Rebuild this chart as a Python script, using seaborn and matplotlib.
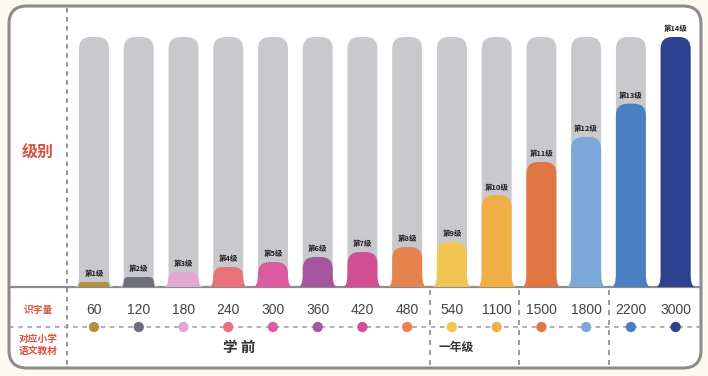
import numpy as np
import matplotlib
matplotlib.use("Agg")
import matplotlib.pyplot as plt
import seaborn as sns
from matplotlib.path import Path
from matplotlib.patches import PathPatch, FancyBboxPatch

# ---------------- data ----------------
levels = ["第1级", "第2级", "第3级", "第4级", "第5级", "第6级", "第7级",
          "第8级", "第9级", "第10级", "第11级", "第12级", "第13级", "第14级"]
counts = [60, 120, 180, 240, 300, 360, 420, 480, 540, 1100, 1500, 1800, 2200, 3000]
count_labels = ["60", "120", "180", "240", "300", "360", "420", "480",
                "540", "1100", "1500", "1800", "2200", "3000"]
colors = ["#b68e3e", "#6c6f79", "#e2a8d0", "#e8717b", "#dc5ba0", "#a5569f",
          "#d24f94", "#e6834f", "#f3c552", "#efae46", "#e07641", "#7ba8d9",
          "#4a80c1", "#2c4290"]
stage_labels = ["学 前", "一年级"]
stage_first = [0, 8]   # index of first level in each stage
stage_last = [7, 9]

row_title_level = "级别"
row_title_count = "识字量"
row_title_book = "对应小学\n语文教材"

grey = "#c9c9cd"
red = "#d95240"
CJK = ["Noto Sans CJK SC", "DejaVu Sans"]

# ---------------- figure ----------------
sns.set_theme(style="white")
plt.rcParams["font.family"] = CJK

W, H = 708, 376
fig = plt.figure(figsize=(W / 100, H / 100), dpi=100, facecolor="#fbf9f1")

# pixel-space background axes for the frame
bg = fig.add_axes([0, 0, 1, 1], zorder=0)
bg.set_xlim(0, W)
bg.set_ylim(H, 0)
bg.axis("off")
bg.add_patch(FancyBboxPatch((9, 6), 692, 362, boxstyle="round,pad=0,rounding_size=18",
                            facecolor="white", edgecolor="#8c8c8c", lw=2.2))

# data axes
ax = fig.add_axes([0, 0, 1, 1], zorder=1)
ax.patch.set_alpha(0)
PX = 44.74          # pixels per category
X0 = 94.0           # pixel centre of first category
SY = 12.0           # data units per pixel (vertical)
BASE = 287.0        # pixel row of baseline


def yd(py):
    return (BASE - py) * SY


# background grey bars + coloured bars via seaborn
n0 = len(ax.patches)
sns.barplot(x=levels, y=[max(counts)] * len(levels), color=grey, saturation=1,
            width=0.67, ax=ax, order=levels)
n1 = len(ax.patches)
sns.barplot(x=levels, y=counts, hue=levels, palette=colors, saturation=1,
            width=0.67, ax=ax, order=levels, hue_order=levels, legend=False, dodge=False)
n2 = len(ax.patches)

sx = 1.0 / PX


def bell_path(cx, width, height):
    hw = width / 2 / sx           # half width in px
    h = height / SY               # height in px
    f, r, fl = 12.0, 12.0, 5.0
    if h < f + r:
        s = h / (f + r)
        f, r, fl = f * s, r * s, fl * max(s, 0.35)
    wf = hw + fl
    pts = [(-wf, 0), (-hw, 0), (-hw, f), (-hw, h - r), (-hw, h), (-hw + r, h),
           (hw - r, h), (hw, h), (hw, h - r), (hw, f), (hw, 0), (wf, 0), (-wf, 0)]
    codes = [Path.MOVETO, Path.CURVE3, Path.CURVE3, Path.LINETO, Path.CURVE3, Path.CURVE3,
             Path.LINETO, Path.CURVE3, Path.CURVE3, Path.LINETO, Path.CURVE3, Path.CURVE3,
             Path.CLOSEPOLY]
    verts = [(cx + u * sx, v * SY) for u, v in pts]
    return Path(verts, codes)


bars = list(ax.patches)
for k, p in enumerate(bars[n0:n2]):
    cx = p.get_x() + p.get_width() / 2
    pp = PathPatch(bell_path(cx, p.get_width(), p.get_height()),
                   facecolor=p.get_facecolor(), edgecolor="none", zorder=2 + (k >= n1 - n0))
    ax.add_patch(pp)
    p.set_visible(False)

# level labels above coloured bars
for i, p in enumerate(bars[n1:n2]):
    cx = p.get_x() + p.get_width() / 2
    ax.text(cx, p.get_height() + 8.5 * SY, levels[i], ha="center", va="center",
            fontsize=5.4, fontweight="bold", color="#222222", zorder=4)

# count row
for i, lab in enumerate(count_labels):
    ax.text(i, yd(310), lab, ha="center", va="center", fontsize=10,
            family=["Liberation Sans", "DejaVu Sans"], color="#444444")

# dashed row line and dots
ax.plot([(9 - X0) / PX, (701 - X0) / PX], [yd(327)] * 2, ls=(0, (3, 3)),
        color="#9a9a9a", lw=1.1, zorder=1)
sns.scatterplot(x=np.arange(len(levels)), y=[yd(327)] * len(levels), hue=levels,
                palette=colors, hue_order=levels, s=55, edgecolor="none",
                legend=False, ax=ax, zorder=3)

# stage labels
ax.text((stage_first[0] + stage_last[0]) / 2 - 0.25, yd(347), stage_labels[0],
        ha="center", va="center", fontsize=10.5, fontweight="bold", color="#333333")
ax.text(stage_first[1] + 0.1, yd(347), stage_labels[1],
        ha="center", va="center", fontsize=8.5, fontweight="bold", color="#333333")

# stage separators
for a in stage_first[1:] + [10, 12]:
    ax.plot([a - 0.5, a - 0.5], [yd(290), yd(366)], ls=(0, (3, 3)), color="#8a8a8a", lw=1.2)

# frame lines (pixel axes)
bg.plot([9, 701], [287, 287], color="#8c8c8c", lw=1.6, zorder=3)
bg.plot([66.5, 66.5], [8, 367], ls=(0, (2.5, 2.5)), color="#8a8a8a", lw=1.3, zorder=3)

# row titles
bg.text(38, 153, row_title_level, ha="center", va="center", fontsize=11.5,
        fontweight="bold", color=red)
bg.text(38, 310, row_title_count, ha="center", va="center", fontsize=7,
        fontweight="bold", color=red)
bg.text(38, 345, row_title_book, ha="center", va="center", fontsize=7,
        fontweight="bold", color=red, linespacing=1.3)

# set limits last (seaborn resets them)
ax.set_xlim(-X0 / PX, (W - X0) / PX)
ax.set_ylim(-(H - BASE) * SY, BASE * SY)
ax.axis("off")
fig.savefig("out.png", dpi=100, facecolor=fig.get_facecolor())
